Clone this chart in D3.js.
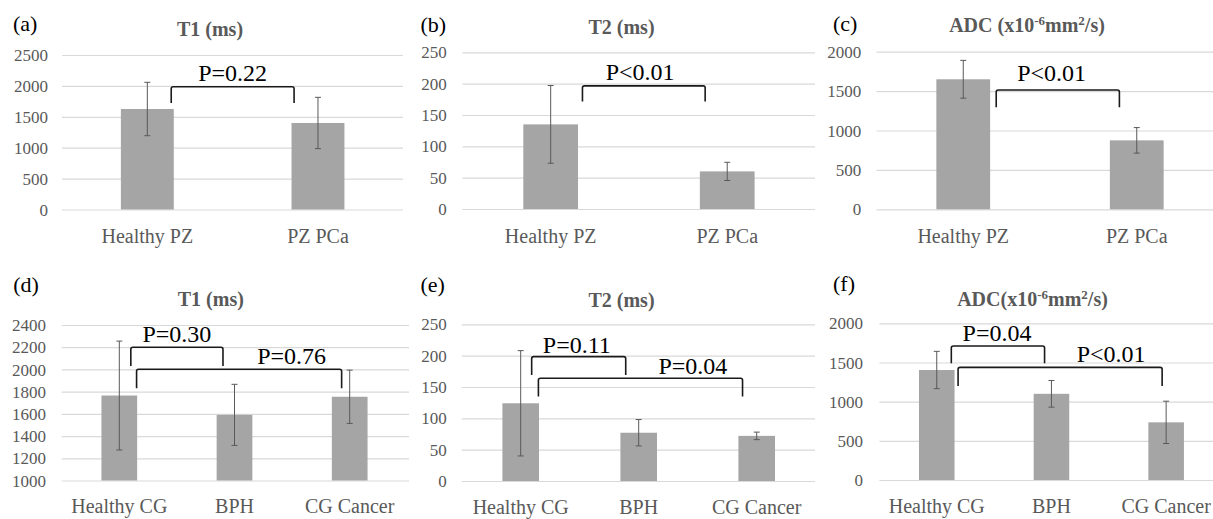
<!DOCTYPE html>
<html>
<head>
<meta charset="utf-8">
<script src="https://cdn.jsdelivr.net/npm/d3@7"></script>
<style>
  html, body { margin: 0; padding: 0; background: #ffffff; }
  svg { display: block; }
</style>
</head>
<body>
<svg id="chart" width="1213" height="519"></svg>
<script>
// ---------------- DATA ----------------
const categoriesPZ = ["Healthy PZ", "PZ PCa"];
const categoriesCG = ["Healthy CG", "BPH", "CG Cancer"];

const t1PZMean = [1626, 1400];
const t1PZSd = [432, 415];
const t2PZMean = [135, 60];
const t2PZSd = [62, 14.5];
const adcPZMean = [1650, 875];
const adcPZSd = [240, 162];

const t1CGMean = [1765, 1591, 1754];
const t1CGSd = [490, 275, 240];
const t2CGMean = [124, 77, 72];
const t2CGSd = [84, 21, 6];
const adcCGMean = [1404, 1100, 736];
const adcCGSd = [238, 170, 270];

const t1PZTicks = [0, 500, 1000, 1500, 2000, 2500];
const t2Ticks = [0, 50, 100, 150, 200, 250];
const adcTicks = [0, 500, 1000, 1500, 2000];
const t1CGTicks = [1000, 1200, 1400, 1600, 1800, 2000, 2200, 2400];

const panelLetters = ["(a)", "(b)", "(c)", "(d)", "(e)", "(f)"];
// title pieces: [text, isSuperscript]
const titleT1 = [["T1 (ms)", false]];
const titleT2 = [["T2 (ms)", false]];
const titleADC = [["ADC (x10", false], ["-6", true], ["mm", false], ["2", true], ["/s)", false]];
const titleADC2 = [["ADC(x10", false], ["-6", true], ["mm", false], ["2", true], ["/s)", false]];

// comparisons: [fromIndex, toIndex, label]
const compPZa = [[0, 1, "P=0.22"]];
const compPZb = [[0, 1, "P<0.01"]];
const compPZc = [[0, 1, "P<0.01"]];
const compCGd = [[0, 1, "P=0.30"], [0, 2, "P=0.76"]];
const compCGe = [[0, 1, "P=0.11"], [0, 2, "P=0.04"]];
const compCGf = [[0, 1, "P=0.04"], [0, 2, "P<0.01"]];

// ---------------- LAYOUT / STYLE ----------------
const panels = [
  { letter: panelLetters[0], title: titleT1, cats: categoriesPZ, mean: t1PZMean, sd: t1PZSd, ticks: t1PZTicks, comps: compPZa,
    x0: 62, x1: 403.3, yTop: 55, yBot: 209.5, gridR: 403, tickR: 48, titleX: 210, titleY: 35.5, letX: 13, letY: 30.5, catY: 243,
    br: [{ s: 0.14, e: -0.14, top: 1987, leg: 16.3, lab: 0.5, gap: 6 }] },
  { letter: panelLetters[1], title: titleT2, cats: categoriesPZ, mean: t2PZMean, sd: t2PZSd, ticks: t2Ticks, comps: compPZb,
    x0: 462.4, x1: 815.5, yTop: 52.3, yBot: 209, gridR: 815, tickR: 446.7, titleX: 621.5, titleY: 34, letX: 420.5, letY: 31.5, catY: 242.5,
    br: [{ s: 0.18, e: -0.125, top: 196.5, leg: 15.7, lab: 0.47, gap: 5.5 }] },
  { letter: panelLetters[2], title: titleADC, cats: categoriesPZ, mean: adcPZMean, sd: adcPZSd, ticks: adcTicks, comps: compPZc,
    x0: 876.5, x1: 1223.5, yTop: 51.7, yBot: 209.3, gridR: 1213, tickR: 861.3, titleX: 1027, titleY: 32, letX: 833, letY: 30.5, catY: 243,
    br: [{ s: 0.19, e: -0.10, top: 1514, leg: 17.3, lab: 0.45, gap: 9 }] },
  { letter: panelLetters[3], title: titleT1, cats: categoriesCG, mean: t1CGMean, sd: t1CGSd, ticks: t1CGTicks, comps: compCGd,
    x0: 61.7, x1: 407.3, yTop: 325, yBot: 480.5, gridR: 409, tickR: 46, titleX: 210.8, titleY: 305.5, letX: 13.3, letY: 291.5, catY: 513,
    br: [{ s: 0.10, e: -0.10, top: 2200, leg: 18.7, lab: 0.5, gap: 5 },
         { s: 0.15, e: -0.07, top: 2002, leg: 19, lab: 0.756, gap: 5.3 }] },
  { letter: panelLetters[4], title: titleT2, cats: categoriesCG, mean: t2CGMean, sd: t2CGSd, ticks: t2Ticks, comps: compCGe,
    x0: 461.7, x1: 815.7, yTop: 324.3, yBot: 481, gridR: 815, tickR: 446.7, titleX: 621.5, titleY: 307, letX: 420.5, letY: 291.5, catY: 513.5,
    br: [{ s: 0.093, e: -0.11, top: 198.4, leg: 18.3, lab: 0.48, gap: 4 },
         { s: 0.15, e: -0.12, top: 164, leg: 18.4, lab: 0.757, gap: 4 }] },
  { letter: panelLetters[5], title: titleADC2, cats: categoriesCG, mean: adcCGMean, sd: adcCGSd, ticks: adcTicks, comps: compCGf,
    x0: 879.4, x1: 1223.5, yTop: 323.3, yBot: 480, gridR: 1213, tickR: 863, titleX: 1032.5, titleY: 306, letX: 833, letY: 290.5, catY: 513,
    br: [{ s: 0.127, e: -0.06, top: 1710, leg: 17.3, lab: 0.49, gap: 5.3 },
         { s: 0.186, e: -0.035, top: 1438, leg: 18.7, lab: 0.75, gap: 5.6 }] }
];

const FONT = "'Liberation Serif', 'Times New Roman', serif";
const TEXT_GRAY = "#595959";
const GRID = "#d9d9d9";
const BAR = "#a5a5a5";
const ERR = "#595959";

const svg = d3.select("#chart");
svg.append("rect").attr("width", 1213).attr("height", 519).attr("fill", "#fff");

panels.forEach(p => {
  const g = svg.append("g");
  const ticks = p.ticks;
  const y = d3.scaleLinear()
    .domain([ticks[0], ticks[ticks.length - 1]])
    .range([p.yBot, p.yTop]);
  const x = d3.scaleBand()
    .domain(p.cats)
    .range([p.x0, p.x1])
    .paddingInner(0.69)
    .paddingOuter(0.345);
  const step = x.step();
  const bw = x.bandwidth();

  // gridlines + tick labels via axis
  const axis = d3.axisLeft(y).tickValues(ticks).tickSize(-(p.gridR - p.x0)).tickPadding(p.x0 - p.tickR).tickFormat(d3.format("d"));
  const ax = g.append("g").attr("transform", `translate(${p.x0},0)`).call(axis);
  ax.select(".domain").remove();
  ax.selectAll(".tick line").attr("stroke", GRID).attr("stroke-width", 1.2);
  ax.selectAll(".tick text")
    .attr("fill", TEXT_GRAY)
    .style("font-family", FONT)
    .style("font-size", "17px")
    .attr("dy", "0.33em");

  // clip for the panel (c/f extend past canvas)
  // bars
  const rows = p.cats.map((c, i) => ({ c, m: p.mean[i], s: p.sd[i] }));
  g.selectAll("rect.bar").data(rows).enter().append("rect")
    .attr("class", "bar")
    .attr("x", d => x(d.c))
    .attr("width", bw)
    .attr("y", d => y(d.m))
    .attr("height", d => y(ticks[0]) - y(d.m))
    .attr("fill", BAR);

  // error bars
  const eg = g.selectAll("g.err").data(rows).enter().append("g").attr("class", "err");
  eg.append("line")
    .attr("x1", d => x(d.c) + bw / 2).attr("x2", d => x(d.c) + bw / 2)
    .attr("y1", d => y(d.m + d.s)).attr("y2", d => y(d.m - d.s))
    .attr("stroke", ERR).attr("stroke-width", 1);
  [1, -1].forEach(sign => {
    eg.append("line")
      .attr("x1", d => x(d.c) + bw / 2 - 3).attr("x2", d => x(d.c) + bw / 2 + 3)
      .attr("y1", d => y(d.m + sign * d.s)).attr("y2", d => y(d.m + sign * d.s))
      .attr("stroke", ERR).attr("stroke-width", 1);
  });

  // category labels
  g.selectAll("text.cat").data(p.cats).enter().append("text")
    .attr("class", "cat")
    .attr("x", d => x(d) + bw / 2)
    .attr("y", p.catY)
    .attr("text-anchor", "middle")
    .attr("fill", TEXT_GRAY)
    .style("font-family", FONT)
    .style("font-size", "20px")
    .text(d => d);

  // title
  const t = g.append("text")
    .attr("x", p.titleX).attr("y", p.titleY)
    .attr("text-anchor", "middle")
    .attr("fill", TEXT_GRAY)
    .style("font-family", FONT)
    .style("font-weight", "bold")
    .style("font-size", "20px");
  let raised = false;
  p.title.forEach(([txt, sup]) => {
    const ts = t.append("tspan").text(txt);
    if (sup && !raised) { ts.attr("dy", -7).style("font-size", "13px"); raised = true; }
    else if (sup && raised) { ts.style("font-size", "13px"); }
    else if (!sup && raised) { ts.attr("dy", 7); raised = false; }
  });

  // panel letter
  g.append("text")
    .attr("x", p.letX).attr("y", p.letY)
    .attr("fill", "#000")
    .style("font-family", FONT)
    .style("font-size", "22px")
    .text(p.letter);

  // comparison brackets
  p.comps.forEach((cmp, i) => {
    const b = p.br[i];
    const xs = x(p.cats[cmp[0]]) + bw / 2 + b.s * step;
    const xe = x(p.cats[cmp[1]]) + bw / 2 + b.e * step;
    const yt = y(b.top);
    const path = d3.path();
    path.moveTo(xs, yt + b.leg);
    path.lineTo(xs, yt + 2);
    path.quadraticCurveTo(xs, yt, xs + 2, yt);
    path.lineTo(xe - 2, yt);
    path.quadraticCurveTo(xe, yt, xe, yt + 2);
    path.lineTo(xe, yt + b.leg);
    g.append("path").attr("d", path.toString())
      .attr("fill", "none").attr("stroke", "#1a1a1a").attr("stroke-width", 1.6);
    g.append("text")
      .attr("x", xs + (xe - xs) * b.lab)
      .attr("y", yt - b.gap)
      .attr("text-anchor", "middle")
      .attr("fill", "#000")
      .style("font-family", FONT)
      .style("font-size", "24px")
      .text(cmp[2]);
  });
});
</script>
</body>
</html>
